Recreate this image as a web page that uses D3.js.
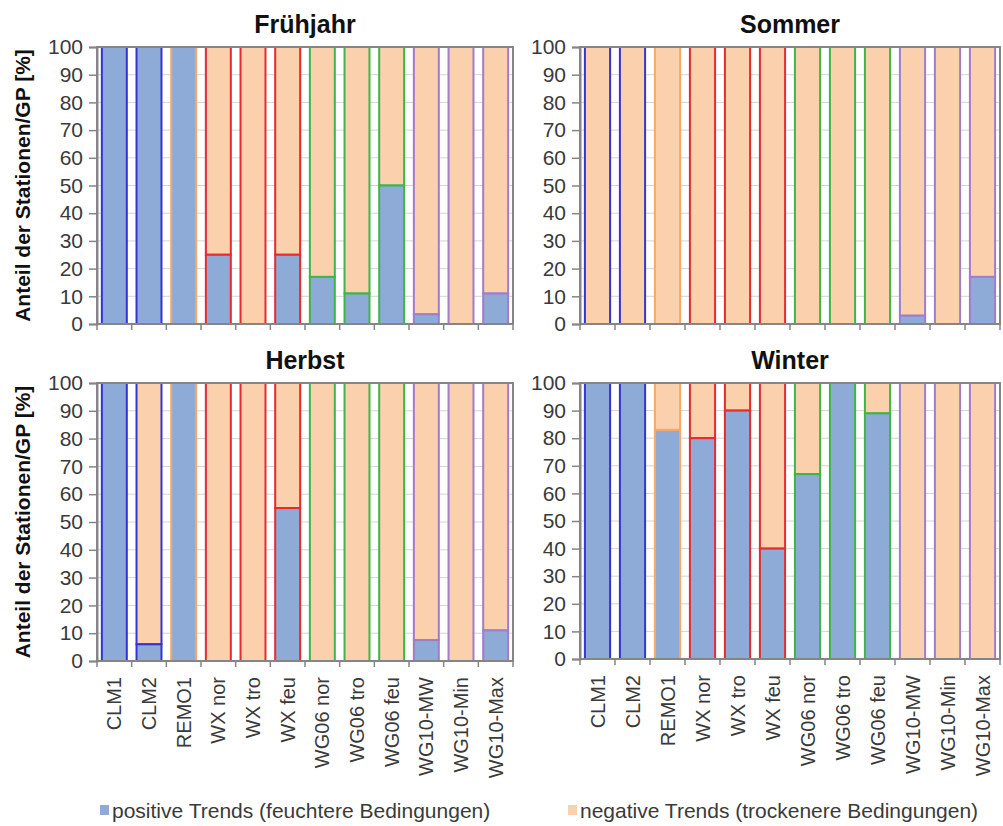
<!DOCTYPE html>
<html>
<head>
<meta charset="utf-8">
<script src="https://cdn.jsdelivr.net/npm/d3@7"></script>
<style>
  html, body { margin: 0; padding: 0; background: #fff; }
  svg { display: block; font-family: "Liberation Sans", Arial, sans-serif; }
</style>
</head>
<body>
<svg id="chart" width="1003" height="826"></svg>
<script>
// Models / methods on the x axis
const categories = ["CLM1", "CLM2", "REMO1", "WX nor", "WX tro", "WX feu",
  "WG06 nor", "WG06 tro", "WG06 feu", "WG10-MW", "WG10-Min", "WG10-Max"];

// Share (%) of stations / grid points with a positive trend; the rest is negative
const fruehjahr = [100, 100, 100, 25, 0, 25, 17, 11, 50, 3.5, 0, 11];
const sommer    = [0, 0, 0, 0, 0, 0, 0, 0, 0, 3, 0, 17];
const herbst    = [100, 6, 100, 0, 0, 55, 0, 0, 0, 7.5, 0, 11];
const winter    = [100, 100, 83, 80, 90, 40, 67, 100, 89, 0, 0, 0];

const seasons = ["Frühjahr", "Sommer", "Herbst", "Winter"];
const yTicks = [0, 10, 20, 30, 40, 50, 60, 70, 80, 90, 100];
const legendLabels = ["positive Trends (feuchtere Bedingungen)", "negative Trends (trockenere Bedingungen)"];
const yTitle = "Anteil der Stationen/GP [%]";

// Outline colour per model family
const outline = ["#3434d2", "#3434d2", "#f4aa66", "#e62a2e", "#e62a2e", "#e62a2e",
  "#3db548", "#3db548", "#3db548", "#a07ccb", "#a07ccb", "#a07ccb"];
const posFill = "#8eabd8";
const negFill = "#fbd0ad";

const panels = [
  { title: seasons[0], values: fruehjahr, x0: 97,  x1: 513,  y0: 47,  y1: 324, showY: true },
  { title: seasons[1], values: sommer,    x0: 580, x1: 1000, y0: 47,  y1: 324, showY: false },
  { title: seasons[2], values: herbst,    x0: 97,  x1: 513,  y0: 383, y1: 661, showY: true },
  { title: seasons[3], values: winter,    x0: 580, x1: 1000, y0: 383, y1: 659, showY: false }
];

const svg = d3.select("#chart");

panels.forEach((p, pi) => {
  const x = d3.scaleBand().domain(categories).range([p.x0, p.x1])
    .paddingInner(0.28).paddingOuter(0.14);
  const y = d3.scaleLinear().domain([0, 100]).range([p.y1, p.y0]);
  const g = svg.append("g");

  // horizontal grid
  g.append("g").selectAll("line").data(yTicks.slice(1)).join("line")
    .attr("x1", p.x0).attr("x2", p.x1)
    .attr("y1", d => y(d)).attr("y2", d => y(d))
    .attr("stroke", "#d4d4d4").attr("stroke-width", 1);

  // bars: positive share at the bottom, negative share stacked on top
  const bars = g.append("g").selectAll("g").data(categories).join("g");
  bars.each(function(c, i) {
    const v = p.values[i];
    const sel = d3.select(this);
    if (v < 100) {
      sel.append("rect")
        .attr("x", x(c)).attr("width", x.bandwidth())
        .attr("y", y(100)).attr("height", y(v) - y(100))
        .attr("fill", negFill).attr("stroke", outline[i]).attr("stroke-width", 2);
    }
    if (v > 0) {
      sel.append("rect")
        .attr("x", x(c)).attr("width", x.bandwidth())
        .attr("y", y(v)).attr("height", y(0) - y(v))
        .attr("fill", posFill).attr("stroke", outline[i]).attr("stroke-width", 2);
    }
  });

  // plot frame
  g.append("rect")
    .attr("x", p.x0).attr("y", p.y0)
    .attr("width", p.x1 - p.x0).attr("height", p.y1 - p.y0)
    .attr("fill", "none").attr("stroke", "#858585").attr("stroke-width", 2);

  // y axis
  const yAxis = d3.axisLeft(y).tickValues(yTicks).tickSize(8).tickPadding(6);
  const ya = g.append("g").attr("transform", `translate(${p.x0},0)`).call(yAxis);
  ya.select(".domain").attr("stroke", "#858585").attr("stroke-width", 2);
  ya.selectAll(".tick line").attr("stroke", "#858585").attr("stroke-width", 1.5);
  ya.selectAll(".tick text").attr("fill", "#3a3a3a").attr("font-size", 21)
    .attr("font-family", "Liberation Sans, Arial, sans-serif");

  // x axis: ticks at band boundaries
  const bounds = categories.map(c => x(c) - x.step() * x.paddingInner() / 2).concat([p.x1]);
  g.append("g").selectAll("line").data(bounds).join("line")
    .attr("x1", d => d).attr("x2", d => d)
    .attr("y1", p.y1).attr("y2", p.y1 + 6)
    .attr("stroke", "#858585").attr("stroke-width", 1.5);

  if (pi >= 2) {
    g.append("g").selectAll("text").data(categories).join("text")
      .attr("transform", c => `translate(${x(c) + x.bandwidth() / 2 + 7},${p.y1 + 16}) rotate(-90)`)
      .attr("text-anchor", "end")
      .attr("font-size", 20).attr("fill", "#3a3a3a")
      .text(c => c);
  }

  // panel title
  g.append("text")
    .attr("x", (p.x0 + p.x1) / 2).attr("y", p.y0 - 14)
    .attr("text-anchor", "middle").attr("font-weight", "bold")
    .attr("font-size", 25).attr("fill", "#111")
    .text(p.title);

  if (p.showY) {
    g.append("text")
      .attr("transform", `translate(30,${(p.y0 + p.y1) / 2}) rotate(-90)`)
      .attr("text-anchor", "middle").attr("font-weight", "bold")
      .attr("font-size", 21).attr("fill", "#111")
      .text(yTitle);
  }
});

// legend
const legend = svg.append("g");
const legendItems = [
  { x: 100, fill: posFill, label: legendLabels[0] },
  { x: 568, fill: negFill, label: legendLabels[1] }
];
legendItems.forEach(it => {
  legend.append("rect").attr("x", it.x).attr("y", 805).attr("width", 9).attr("height", 10)
    .attr("fill", it.fill);
  legend.append("text").attr("x", it.x + 12).attr("y", 818)
    .attr("font-size", 21).attr("fill", "#3a3a3a").text(it.label);
});
</script>
</body>
</html>
